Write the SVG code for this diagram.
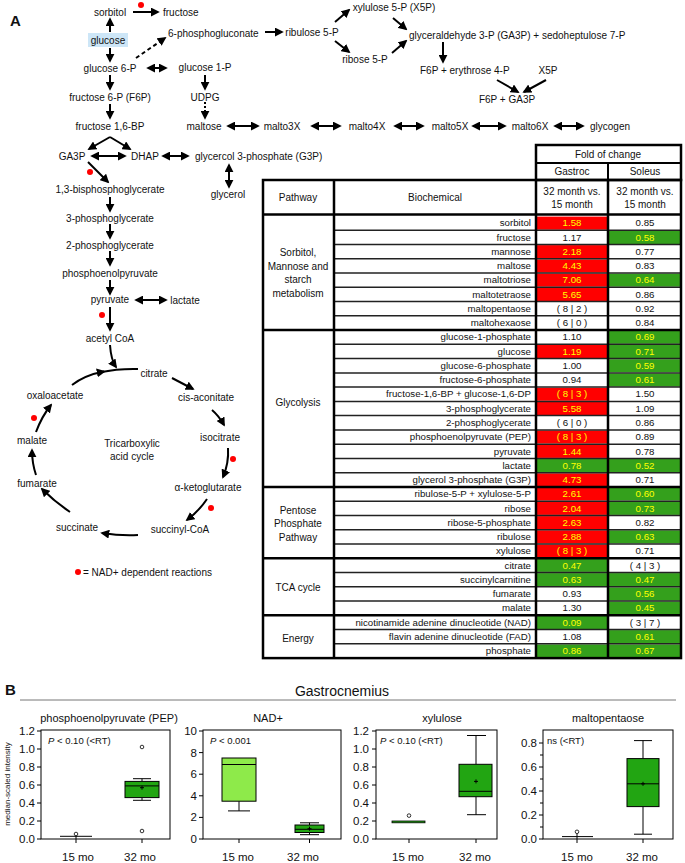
<svg xmlns="http://www.w3.org/2000/svg" width="685" height="863" viewBox="0 0 685 863">
<defs>
<marker id="ah" viewBox="0 0 10 10" refX="8" refY="5" markerWidth="9" markerHeight="9" markerUnits="userSpaceOnUse" orient="auto-start-reverse"><path d="M0,0 L10,5 L0,10 z" fill="#000"/></marker>
<style>
text{font-family:"Liberation Sans",Arial,sans-serif;fill:#111}
.t{font-size:10px;text-anchor:middle}
.ts{font-size:10px;text-anchor:start}
.ar{stroke:#000;stroke-width:2;fill:none;marker-end:url(#ah)}
.da{stroke:#000;stroke-width:2;fill:none;marker-end:url(#ah);marker-start:url(#ah)}
.dot{fill:#f00}
.bn{font-size:9.7px;text-anchor:end}
.v{font-size:9.7px;text-anchor:middle}
.vy{font-size:9.7px;text-anchor:middle;fill:#ff0}
.hd{font-size:10px;text-anchor:middle}
.red{fill:#f00}
.grn{fill:#34a01c}
.pl{font-size:10px;text-anchor:middle}
.thin{stroke:#222;stroke-width:1.5}
.thick{stroke:#000;stroke-width:2.5;fill:none}
.ax{font-size:11.5px;text-anchor:end}
.xl{font-size:11.5px;text-anchor:middle}
.ttl{font-size:11px;text-anchor:middle}
.pv{font-size:9.5px}
.bx{stroke:#000;stroke-width:1;fill:none}
.gb{fill:#22a512;stroke:#000;stroke-width:1}
.lgb{fill:#8eea4a;stroke:#000;stroke-width:1}
.wk{stroke:#000;stroke-width:1;fill:none}
.oc{fill:#fff;stroke:#000;stroke-width:0.8}
</style>
</defs>
<rect width="685" height="863" fill="#fff"/>
<text x="10" y="26" style="font-size:15px;font-weight:bold">A</text>

<!-- pathway nodes -->
<g id="n-sorbitol"><text class="t" x="110" y="15.5">sorbitol</text></g>
<g id="n-fructose"><text class="ts" x="163" y="15.5">fructose</text></g>
<g id="n-glucose"><rect x="88" y="33" width="40" height="14" fill="#cde6f7"/><text class="t" x="108" y="43.5">glucose</text></g>
<g id="n-6pg"><text class="ts" x="168" y="36.5">6-phosphogluconate</text></g>
<g id="n-g6p"><text class="t" x="110" y="71.5">glucose 6-P</text></g>
<g id="n-g1p"><text class="t" x="205" y="70.5">glucose 1-P</text></g>
<g id="n-udpg"><text class="t" x="205" y="100.5">UDPG</text></g>
<g id="n-maltose"><text class="t" x="204" y="129.5">maltose</text></g>
<g id="n-f6p"><text class="t" x="110" y="100.5">fructose 6-P (F6P)</text></g>
<g id="n-f16bp"><text class="t" x="110" y="129.5">fructose 1,6-BP</text></g>
<g id="n-malto3x"><text class="t" x="282" y="129.5">malto3X</text></g>
<g id="n-malto4x"><text class="t" x="367" y="129.5">malto4X</text></g>
<g id="n-malto5x"><text class="t" x="450" y="129.5">malto5X</text></g>
<g id="n-malto6x"><text class="t" x="530" y="129.5">malto6X</text></g>
<g id="n-glycogen"><text class="t" x="610" y="129.5">glycogen</text></g>
<g id="n-ru5p"><text class="t" x="312" y="35.5">ribulose 5-P</text></g>
<g id="n-x5p"><text class="t" x="394" y="10.5">xylulose 5-P (X5P)</text></g>
<g id="n-r5p"><text class="t" x="365" y="62.5">ribose 5-P</text></g>
<g id="n-ga3p-s7p"><text class="ts" x="409" y="38.5">glyceraldehyde 3-P (GA3P) + sedoheptulose 7-P</text></g>
<g id="n-f6p-e4p"><text class="ts" x="420" y="73.5">F6P + erythrose 4-P</text></g>
<g id="n-x5p2"><text class="t" x="548" y="73.5">X5P</text></g>
<g id="n-f6p-ga3p"><text class="t" x="507" y="102.5">F6P + GA3P</text></g>
<g id="n-ga3p"><text class="t" x="72" y="159.5">GA3P</text></g>
<g id="n-dhap"><text class="t" x="145" y="159.5">DHAP</text></g>
<g id="n-g3p"><text class="ts" x="195" y="159.5">glycercol 3-phosphate (G3P)</text></g>
<g id="n-glycerol"><text class="t" x="228" y="197.5">glycerol</text></g>
<g id="n-13bpg"><text class="t" x="110" y="192.5">1,3-bisphosphoglycerate</text></g>
<g id="n-3pg"><text class="t" x="110" y="221.5">3-phosphoglycerate</text></g>
<g id="n-2pg"><text class="t" x="110" y="248.5">2-phosphoglycerate</text></g>
<g id="n-pep"><text class="t" x="110" y="276.5">phosphoenolpyruvate</text></g>
<g id="n-pyruvate"><text class="t" x="110" y="302.5">pyruvate</text></g>
<g id="n-lactate"><text class="t" x="185" y="303.5">lactate</text></g>
<g id="n-acetylcoa"><text class="t" x="110" y="341.5">acetyl CoA</text></g>
<g id="n-citrate"><text class="t" x="154" y="376.5">citrate</text></g>
<g id="n-cisaco"><text class="t" x="206" y="400.5">cis-aconitate</text></g>
<g id="n-isocit"><text class="t" x="220" y="440.5">isocitrate</text></g>
<g id="n-akg"><text class="t" x="208" y="490.5">α-ketoglutarate</text></g>
<g id="n-succoa"><text class="t" x="180" y="532.5">succinyl-CoA</text></g>
<g id="n-succinate"><text class="t" x="77" y="530.5">succinate</text></g>
<g id="n-fumarate"><text class="t" x="37" y="486.5">fumarate</text></g>
<g id="n-malate"><text class="t" x="32" y="443.5">malate</text></g>
<g id="n-oaa"><text class="t" x="55" y="398.5">oxaloacetate</text></g>
<g id="n-tca"><text class="t" x="132" y="446.5">Tricarboxylic</text><text class="t" x="132" y="459.5">acid cycle</text></g>
<g id="legend"><circle class="dot" cx="78" cy="572" r="3"/><text class="ts" x="83" y="575.5">= NAD+ dependent reactions</text></g>

<!-- connectors -->
<g id="connectors">
<line class="ar" x1="133" y1="12" x2="158" y2="12"/>
<line class="ar" x1="110" y1="32" x2="110" y2="19"/>
<line class="ar" x1="110" y1="48" x2="110" y2="61"/>
<line class="ar" x1="136" y1="58" x2="165" y2="38" stroke-dasharray="4 3"/>
<line class="da" x1="148" y1="68" x2="166" y2="68"/>
<line class="ar" x1="205" y1="75" x2="205" y2="89"/>
<line class="ar" x1="205" y1="102" x2="205" y2="118" stroke-dasharray="2 2"/>
<line class="ar" x1="110" y1="75" x2="110" y2="89"/>
<line class="ar" x1="110" y1="104" x2="110" y2="118"/>
<path class="ar" d="M110 137 L89 149"/>
<path class="ar" d="M110 137 L130 149"/>
<line class="da" x1="228" y1="126" x2="258" y2="126"/>
<line class="da" x1="312" y1="126" x2="340" y2="126"/>
<line class="da" x1="395" y1="126" x2="423" y2="126"/>
<line class="da" x1="473" y1="126" x2="505" y2="126"/>
<line class="da" x1="555" y1="126" x2="583" y2="126"/>
<line class="ar" x1="265" y1="32" x2="282" y2="32"/>
<line class="ar" x1="335" y1="22" x2="349" y2="10"/>
<line class="ar" x1="335" y1="41" x2="349" y2="52"/>
<line class="ar" x1="393" y1="18" x2="406" y2="29"/>
<line class="ar" x1="392" y1="53" x2="406" y2="41"/>
<line class="ar" x1="443" y1="42" x2="443" y2="62"/>
<line class="ar" x1="497" y1="80" x2="518" y2="92"/>
<line class="ar" x1="546" y1="80" x2="524" y2="92"/>
<line class="da" x1="92" y1="156" x2="125" y2="156"/>
<line class="da" x1="163" y1="156" x2="188" y2="156"/>
<line class="da" x1="229" y1="165" x2="229" y2="187"/>
<line class="ar" x1="88" y1="162" x2="108" y2="182"/>
<line class="ar" x1="110" y1="197" x2="110" y2="211"/>
<line class="ar" x1="110" y1="224" x2="110" y2="238"/>
<line class="ar" x1="110" y1="251" x2="110" y2="265"/>
<line class="ar" x1="110" y1="280" x2="110" y2="294"/>
<line class="da" x1="136" y1="300" x2="166" y2="300"/>
<line class="ar" x1="110" y1="307" x2="110" y2="330"/>
<path class="ar" d="M110 345 Q111 360 116 367"/>
<path class="ar" d="M72 385 Q85 375 104 371.5"/>
<path d="M100 372.3 Q118 368.5 138 369" stroke="#000" stroke-width="2" fill="none"/>
<line class="ar" x1="172" y1="378" x2="193" y2="389"/>
<path class="ar" d="M212 410 Q219 416 224 425"/>
<path class="ar" d="M228 448 Q229 463 223 477"/>
<path class="ar" d="M207 499 Q199 511 187 520"/>
<path class="ar" d="M138 535 Q121 536 102 533"/>
<path class="ar" d="M70 512 Q55 502 42 489"/>
<path class="ar" d="M36 475 Q32 463 32 450"/>
<path class="ar" d="M36 432 Q42 416 51 405"/>
</g>
<g id="nad-dots">
<circle class="dot" cx="141" cy="5" r="3"/>
<circle class="dot" cx="90" cy="172" r="3"/>
<circle class="dot" cx="102" cy="315" r="3"/>
<circle class="dot" cx="233" cy="459" r="3"/>
<circle class="dot" cx="211" cy="508" r="3"/>
<circle class="dot" cx="34" cy="418" r="3"/>
</g>

<!-- table -->
<g id="table">
<g id="t-header">
<rect class="thick" x="536" y="145" width="145" height="35"/>
<line class="thick" x1="536" y1="163" x2="681" y2="163" style="stroke-width:2"/>
<line class="thick" x1="608" y1="163" x2="608" y2="180" style="stroke-width:2"/>
<text class="hd" x="608" y="157.5">Fold of change</text>
<text class="hd" x="572" y="175">Gastroc</text>
<text class="hd" x="645" y="175">Soleus</text>
<text class="hd" x="298" y="201">Pathway</text>
<text class="hd" x="435" y="201">Biochemical</text>
<text class="hd" x="572" y="195">32 month vs.</text>
<text class="hd" x="572" y="207.5">15 month</text>
<text class="hd" x="645" y="195">32 month vs.</text>
<text class="hd" x="645" y="207.5">15 month</text>
</g>
<g id="t-fills">
<rect class="red" x="537" y="216.6" width="70" height="13.1"/>
<rect class="grn" x="609" y="230.9" width="71" height="13.1"/>
<rect class="red" x="537" y="245.1" width="70" height="13.1"/>
<rect class="red" x="537" y="259.4" width="70" height="13.1"/>
<rect class="red" x="537" y="273.6" width="70" height="13.1"/>
<rect class="grn" x="609" y="273.6" width="71" height="13.1"/>
<rect class="red" x="537" y="287.9" width="70" height="13.1"/>
<rect class="grn" x="609" y="330.7" width="71" height="13.1"/>
<rect class="red" x="537" y="344.9" width="70" height="13.1"/>
<rect class="grn" x="609" y="344.9" width="71" height="13.1"/>
<rect class="grn" x="609" y="359.2" width="71" height="13.1"/>
<rect class="grn" x="609" y="373.5" width="71" height="13.1"/>
<rect class="red" x="537" y="387.7" width="70" height="13.1"/>
<rect class="red" x="537" y="402.0" width="70" height="13.1"/>
<rect class="red" x="537" y="430.5" width="70" height="13.1"/>
<rect class="red" x="537" y="444.8" width="70" height="13.1"/>
<rect class="grn" x="537" y="459.0" width="70" height="13.1"/>
<rect class="grn" x="609" y="459.0" width="71" height="13.1"/>
<rect class="red" x="537" y="473.3" width="70" height="13.1"/>
<rect class="red" x="537" y="487.5" width="70" height="13.1"/>
<rect class="grn" x="609" y="487.5" width="71" height="13.1"/>
<rect class="red" x="537" y="501.8" width="70" height="13.1"/>
<rect class="grn" x="609" y="501.8" width="71" height="13.1"/>
<rect class="red" x="537" y="516.1" width="70" height="13.1"/>
<rect class="red" x="537" y="530.3" width="70" height="13.1"/>
<rect class="grn" x="609" y="530.3" width="71" height="13.1"/>
<rect class="red" x="537" y="544.6" width="70" height="13.1"/>
<rect class="grn" x="537" y="558.8" width="70" height="13.1"/>
<rect class="grn" x="537" y="573.1" width="70" height="13.1"/>
<rect class="grn" x="609" y="573.1" width="71" height="13.1"/>
<rect class="grn" x="609" y="587.4" width="71" height="13.1"/>
<rect class="grn" x="609" y="601.6" width="71" height="13.1"/>
<rect class="grn" x="537" y="615.9" width="70" height="13.1"/>
<rect class="grn" x="609" y="630.1" width="71" height="13.1"/>
<rect class="grn" x="537" y="644.4" width="70" height="13.1"/>
<rect class="grn" x="609" y="644.4" width="71" height="13.1"/>
</g>
<g id="t-lines">
<line class="thin" x1="334" y1="230.3" x2="681" y2="230.3"/>
<line class="thin" x1="334" y1="244.5" x2="681" y2="244.5"/>
<line class="thin" x1="334" y1="258.8" x2="681" y2="258.8"/>
<line class="thin" x1="334" y1="273" x2="681" y2="273"/>
<line class="thin" x1="334" y1="287.3" x2="681" y2="287.3"/>
<line class="thin" x1="334" y1="301.6" x2="681" y2="301.6"/>
<line class="thin" x1="334" y1="315.8" x2="681" y2="315.8"/>
<line class="thin" x1="334" y1="344.3" x2="681" y2="344.3"/>
<line class="thin" x1="334" y1="358.6" x2="681" y2="358.6"/>
<line class="thin" x1="334" y1="372.9" x2="681" y2="372.9"/>
<line class="thin" x1="334" y1="387.1" x2="681" y2="387.1"/>
<line class="thin" x1="334" y1="401.4" x2="681" y2="401.4"/>
<line class="thin" x1="334" y1="415.6" x2="681" y2="415.6"/>
<line class="thin" x1="334" y1="429.9" x2="681" y2="429.9"/>
<line class="thin" x1="334" y1="444.2" x2="681" y2="444.2"/>
<line class="thin" x1="334" y1="458.4" x2="681" y2="458.4"/>
<line class="thin" x1="334" y1="472.7" x2="681" y2="472.7"/>
<line class="thin" x1="334" y1="501.2" x2="681" y2="501.2"/>
<line class="thin" x1="334" y1="515.5" x2="681" y2="515.5"/>
<line class="thin" x1="334" y1="529.7" x2="681" y2="529.7"/>
<line class="thin" x1="334" y1="544" x2="681" y2="544"/>
<line class="thin" x1="334" y1="572.5" x2="681" y2="572.5"/>
<line class="thin" x1="334" y1="586.8" x2="681" y2="586.8"/>
<line class="thin" x1="334" y1="601" x2="681" y2="601"/>
<line class="thin" x1="334" y1="629.5" x2="681" y2="629.5"/>
<line class="thin" x1="334" y1="643.8" x2="681" y2="643.8"/>
<rect class="thick" x="263" y="180" width="418" height="478.1"/>
<line class="thick" x1="263" y1="214.5" x2="681" y2="214.5"/>
<line class="thick" x1="263" y1="330.1" x2="681" y2="330.1"/>
<line class="thick" x1="263" y1="486.9" x2="681" y2="486.9"/>
<line class="thick" x1="263" y1="558.2" x2="681" y2="558.2"/>
<line class="thick" x1="263" y1="615.3" x2="681" y2="615.3"/>
<line class="thick" x1="334" y1="180" x2="334" y2="658.1"/>
<line class="thick" x1="536" y1="180" x2="536" y2="658.1"/>
<line class="thick" x1="608" y1="180" x2="608" y2="658.1"/>
</g>
<g id="t-pathways">
<text class="pl" x="298" y="255.5">Sorbitol,</text>
<text class="pl" x="298" y="269.5">Mannose and</text>
<text class="pl" x="298" y="283">starch</text>
<text class="pl" x="298" y="296.5">metabolism</text>
<text class="pl" x="298" y="405.5">Glycolysis</text>
<text class="pl" x="298" y="513.5">Pentose</text>
<text class="pl" x="298" y="527">Phosphate</text>
<text class="pl" x="298" y="540.5">Pathway</text>
<text class="pl" x="298" y="590.5">TCA cycle</text>
<text class="pl" x="298" y="641.5">Energy</text>
</g>
<g id="t-rows">
<text class="bn" x="531" y="226.3">sorbitol</text><text class="vy" x="572" y="226.3">1.58</text><text class="v" x="645" y="226.3">0.85</text>
<text class="bn" x="531" y="240.6">fructose</text><text class="v" x="572" y="240.6">1.17</text><text class="vy" x="645" y="240.6">0.58</text>
<text class="bn" x="531" y="254.8">mannose</text><text class="vy" x="572" y="254.8">2.18</text><text class="v" x="645" y="254.8">0.77</text>
<text class="bn" x="531" y="269.1">maltose</text><text class="vy" x="572" y="269.1">4.43</text><text class="v" x="645" y="269.1">0.83</text>
<text class="bn" x="531" y="283.3">maltotriose</text><text class="vy" x="572" y="283.3">7.06</text><text class="vy" x="645" y="283.3">0.64</text>
<text class="bn" x="531" y="297.6">maltotetraose</text><text class="vy" x="572" y="297.6">5.65</text><text class="v" x="645" y="297.6">0.86</text>
<text class="bn" x="531" y="311.9">maltopentaose</text><text class="v" x="572" y="311.9">( 8 | 2 )</text><text class="v" x="645" y="311.9">0.92</text>
<text class="bn" x="531" y="326.1">maltohexaose</text><text class="v" x="572" y="326.1">( 6 | 0 )</text><text class="v" x="645" y="326.1">0.84</text>
<text class="bn" x="531" y="340.4">glucose-1-phosphate</text><text class="v" x="572" y="340.4">1.10</text><text class="vy" x="645" y="340.4">0.69</text>
<text class="bn" x="531" y="354.6">glucose</text><text class="vy" x="572" y="354.6">1.19</text><text class="vy" x="645" y="354.6">0.71</text>
<text class="bn" x="531" y="368.9">glucose-6-phosphate</text><text class="v" x="572" y="368.9">1.00</text><text class="vy" x="645" y="368.9">0.59</text>
<text class="bn" x="531" y="383.2">fructose-6-phosphate</text><text class="v" x="572" y="383.2">0.94</text><text class="vy" x="645" y="383.2">0.61</text>
<text class="bn" x="531" y="397.4">fructose-1,6-BP + glucose-1,6-DP</text><text class="vy" x="572" y="397.4">( 8 | 3 )</text><text class="v" x="645" y="397.4">1.50</text>
<text class="bn" x="531" y="411.7">3-phosphoglycerate</text><text class="vy" x="572" y="411.7">5.58</text><text class="v" x="645" y="411.7">1.09</text>
<text class="bn" x="531" y="425.9">2-phosphoglycerate</text><text class="v" x="572" y="425.9">( 6 | 0 )</text><text class="v" x="645" y="425.9">0.86</text>
<text class="bn" x="531" y="440.2">phosphoenolpyruvate (PEP)</text><text class="vy" x="572" y="440.2">( 8 | 3 )</text><text class="v" x="645" y="440.2">0.89</text>
<text class="bn" x="531" y="454.5">pyruvate</text><text class="vy" x="572" y="454.5">1.44</text><text class="v" x="645" y="454.5">0.78</text>
<text class="bn" x="531" y="468.7">lactate</text><text class="vy" x="572" y="468.7">0.78</text><text class="vy" x="645" y="468.7">0.52</text>
<text class="bn" x="531" y="483.0">glycerol 3-phosphate (G3P)</text><text class="vy" x="572" y="483.0">4.73</text><text class="v" x="645" y="483.0">0.71</text>
<text class="bn" x="531" y="497.2">ribulose-5-P + xylulose-5-P</text><text class="vy" x="572" y="497.2">2.61</text><text class="vy" x="645" y="497.2">0.60</text>
<text class="bn" x="531" y="511.5">ribose</text><text class="vy" x="572" y="511.5">2.04</text><text class="vy" x="645" y="511.5">0.73</text>
<text class="bn" x="531" y="525.8">ribose-5-phosphate</text><text class="vy" x="572" y="525.8">2.63</text><text class="v" x="645" y="525.8">0.82</text>
<text class="bn" x="531" y="540.0">ribulose</text><text class="vy" x="572" y="540.0">2.88</text><text class="vy" x="645" y="540.0">0.63</text>
<text class="bn" x="531" y="554.3">xylulose</text><text class="vy" x="572" y="554.3">( 8 | 3 )</text><text class="v" x="645" y="554.3">0.71</text>
<text class="bn" x="531" y="568.5">citrate</text><text class="vy" x="572" y="568.5">0.47</text><text class="v" x="645" y="568.5">( 4 | 3 )</text>
<text class="bn" x="531" y="582.8">succinylcarnitine</text><text class="vy" x="572" y="582.8">0.63</text><text class="vy" x="645" y="582.8">0.47</text>
<text class="bn" x="531" y="597.1">fumarate</text><text class="v" x="572" y="597.1">0.93</text><text class="vy" x="645" y="597.1">0.56</text>
<text class="bn" x="531" y="611.3">malate</text><text class="v" x="572" y="611.3">1.30</text><text class="vy" x="645" y="611.3">0.45</text>
<text class="bn" x="531" y="625.6">nicotinamide adenine dinucleotide (NAD)</text><text class="vy" x="572" y="625.6">0.09</text><text class="v" x="645" y="625.6">( 3 | 7 )</text>
<text class="bn" x="531" y="639.8">flavin adenine dinucleotide (FAD)</text><text class="v" x="572" y="639.8">1.08</text><text class="vy" x="645" y="639.8">0.61</text>
<text class="bn" x="531" y="654.1">phosphate</text><text class="vy" x="572" y="654.1">0.86</text><text class="vy" x="645" y="654.1">0.67</text>
</g>
</g>

<!-- panel B -->
<text x="5" y="695" style="font-size:15px;font-weight:bold">B</text>
<text x="342" y="696" style="font-size:14px;text-anchor:middle">Gastrocnemius</text>
<line x1="20" y1="700" x2="676" y2="700" stroke="#777" stroke-width="1"/>
<text transform="translate(10,784) rotate(-90)" style="font-size:8px;text-anchor:middle">median-scaled intensity</text>

<g id="plot-pep">
<text class="ttl" x="109" y="722">phosphoenolpyruvate (PEP)</text>
<rect class="bx" x="41" y="730" width="129" height="109"/>
<path class="wk" d="M37 731H41M37 749H41M37 767H41M37 785H41M37 803H41M37 821H41M37 839H41M76 839V843M142 839V843"/>
<text class="ax" x="35" y="735">1.2</text><text class="ax" x="35" y="753">1.0</text><text class="ax" x="35" y="771">0.8</text><text class="ax" x="35" y="789">0.6</text><text class="ax" x="35" y="807">0.4</text><text class="ax" x="35" y="825">0.2</text><text class="ax" x="35" y="843">0.0</text>
<text class="pv" x="48" y="744"><tspan font-style="italic">P</tspan> &lt; 0.10 (&lt;RT)</text>
<path class="wk" d="M60 836.3H92M76 834.5V839"/>
<circle class="oc" cx="76" cy="834" r="1.8"/>
<path class="wk" d="M142 781.4V778.7M133 778.7H151M142 797.6V800.3M133 800.3H151"/>
<rect class="gb" x="125" y="781.4" width="34" height="16.2"/>
<path class="wk" d="M125 785.9H159M140 787.7H144M142 785.7V789.7"/>
<circle class="oc" cx="142" cy="747" r="1.8"/>
<circle class="oc" cx="142" cy="831" r="1.8"/>
<text class="xl" x="78" y="861">15 mo</text><text class="xl" x="140" y="861">32 mo</text>
</g>

<g id="plot-nad">
<text class="ttl" x="268" y="722">NAD+</text>
<rect class="bx" x="203" y="730" width="138" height="109"/>
<path class="wk" d="M199 731H203M199 752.6H203M199 774.2H203M199 795.8H203M199 817.4H203M199 839H203M239 839V843M309.5 839V843"/>
<text class="ax" x="197" y="735">10</text><text class="ax" x="197" y="756.6">8</text><text class="ax" x="197" y="778.2">6</text><text class="ax" x="197" y="799.8">4</text><text class="ax" x="197" y="821.4">2</text><text class="ax" x="197" y="843">0</text>
<text class="pv" x="210" y="744"><tspan font-style="italic">P</tspan> &lt; 0.001</text>
<path class="wk" d="M239 801.2V810.9M228 810.9H250"/>
<rect class="lgb" x="222" y="758" width="34" height="43.2"/>
<path class="wk" d="M222 764.5H256"/>
<path class="wk" d="M309.5 825V822.8M300 822.8H319M309.5 832.5V834.7M300 834.7H319"/>
<rect class="gb" x="295" y="825" width="29" height="7.5"/>
<path class="wk" d="M295 829.3H324M307.5 828.7H311.5M309.5 826.7V830.7"/>
<text class="xl" x="238" y="861">15 mo</text><text class="xl" x="303" y="861">32 mo</text>
</g>

<g id="plot-xylulose">
<text class="ttl" x="442" y="722">xylulose</text>
<rect class="bx" x="376" y="730" width="121" height="109"/>
<path class="wk" d="M372 731H376M372 749H376M372 767H376M372 785H376M372 803H376M372 821H376M372 839H376M409 839V843M476 839V843"/>
<text class="ax" x="369" y="735">1.2</text><text class="ax" x="369" y="753">1.0</text><text class="ax" x="369" y="771">0.8</text><text class="ax" x="369" y="789">0.6</text><text class="ax" x="369" y="807">0.4</text><text class="ax" x="369" y="825">0.2</text><text class="ax" x="369" y="843">0.0</text>
<text class="pv" x="380" y="744"><tspan font-style="italic">P</tspan> &lt; 0.10 (&lt;RT)</text>
<rect x="392" y="821" width="33" height="1.8" fill="#22a512" stroke="#000" stroke-width="0.8"/>
<circle class="oc" cx="409" cy="815.6" r="1.8"/>
<path class="wk" d="M476 764.3V735.5M467 735.5H486M476 796.7V814.7M467 814.7H486"/>
<rect class="gb" x="459" y="764.3" width="33" height="32.4"/>
<path class="wk" d="M459 791.3H492M474 781.4H478M476 779.4V783.4"/>
<text class="xl" x="408" y="861">15 mo</text><text class="xl" x="475" y="861">32 mo</text>
</g>

<g id="plot-maltopentaose">
<text class="ttl" x="608" y="722">maltopentaose</text>
<rect class="bx" x="543" y="730" width="130" height="109"/>
<path class="wk" d="M539 743H543M539 767H543M539 791H543M539 815H543M539 839H543M540 755H543M540 779H543M540 803H543M540 827H543M577 839V843M643 839V843"/>
<text class="ax" x="537" y="747">0.8</text><text class="ax" x="537" y="771">0.6</text><text class="ax" x="537" y="795">0.4</text><text class="ax" x="537" y="819">0.2</text><text class="ax" x="537" y="843">0.0</text>
<text class="pv" x="547" y="744">ns (&lt;RT)</text>
<path class="wk" d="M562 836.6H593M577 833.6V839"/>
<circle class="oc" cx="577" cy="831.8" r="1.8"/>
<path class="wk" d="M643 758.6V740.6M634 740.6H652M643 806.6V834.2M634 834.2H652"/>
<rect class="gb" x="627" y="758.6" width="32" height="48"/>
<path class="wk" d="M627 783.8H659M641 783.8H645M643 781.8V785.8"/>
<text class="xl" x="577" y="861">15 mo</text><text class="xl" x="642" y="861">32 mo</text>
</g>
</svg>
